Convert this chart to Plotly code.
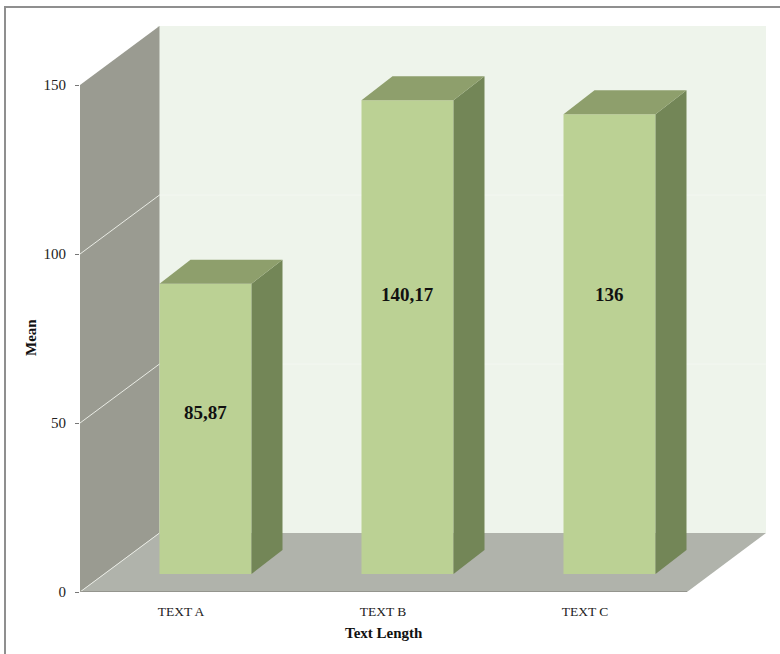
import plotly.graph_objects as go

# Chart values
categories = ["TEXT A", "TEXT B", "TEXT C"]
means = [85.87, 140.17, 136]
value_labels = ["85,87", "140,17", "136"]
y_ticks = [0, 50, 100, 150]

# Pseudo-3D box, expressed in axis units
PX_PER_CAT = 202
PX_PER_UNIT = 3.38
WALL_DX = 79.5 / PX_PER_CAT
WALL_DY = 59 / PX_PER_UNIT
BAR_SHIFT = 24.5 / PX_PER_CAT
BAR_BASE = 18 / PX_PER_UNIT
BAR_WIDTH = 92 / PX_PER_CAT
BAR_DX = 31 / PX_PER_CAT
BAR_DY = 24 / PX_PER_UNIT
X_MIN = -0.5
X_FRONT = X_MIN + 607 / PX_PER_CAT
X_MAX = X_MIN + 686 / PX_PER_CAT
Y_TOP = 150

SERIF = "Liberation Serif"
WALL_LEFT = "#9a9b91"
WALL_BACK = "#eef4eb"
FLOOR = "#b0b3ab"
BAR_FRONT = "#bbd194"
BAR_SIDE = "#738657"
BAR_TOP = "#8e9f6c"
INK = "#111111"


def poly(points, fill):
    path = "M " + " L ".join(f"{x},{y}" for x, y in points) + " Z"
    return dict(type="path", path=path, fillcolor=fill, line=dict(width=0),
                xref="x", yref="y", layer="below")


def seg(x0, y0, x1, y1, color, width=1):
    return dict(type="line", x0=x0, y0=y0, x1=x1, y1=y1, xref="x", yref="y",
                line=dict(color=color, width=width), layer="below")


# The back wall reaches slightly behind the side wall so no seam shows
shapes = [
    poly([(X_MIN + WALL_DX - 0.01, WALL_DY), (X_MAX, WALL_DY),
          (X_MAX, Y_TOP + WALL_DY), (X_MIN + WALL_DX - 0.01, Y_TOP + WALL_DY)], WALL_BACK),
    poly([(X_MIN, 0), (X_MIN + WALL_DX, WALL_DY),
          (X_MIN + WALL_DX, Y_TOP + WALL_DY), (X_MIN, Y_TOP)], WALL_LEFT),
    poly([(X_MIN, 0), (X_FRONT, 0), (X_MAX, WALL_DY), (X_MIN + WALL_DX, WALL_DY)], FLOOR),
]
# Gridlines run across the side wall, then faintly along the back wall
for t in y_ticks[:-1]:
    shapes.append(seg(X_MIN, t, X_MIN + WALL_DX, t + WALL_DY, "#e9ebe4"))
    if t > 0:
        shapes.append(seg(X_MIN + WALL_DX, t + WALL_DY, X_MAX, t + WALL_DY, "#f3f7f1"))
shapes.append(seg(X_MIN, 0, X_FRONT, 0, "#8b8b85", 1.5))


# Paper fractions for items placed relative to the whole page
def page_x(px):
    return (px - 80) / 686


def page_y(py):
    return (592 - py) / 567


# Frame around the chart, running off the right and bottom edges
shapes.append(dict(type="rect", xref="paper", yref="paper", x0=page_x(5), x1=page_x(800),
                   y0=page_y(680), y1=page_y(7), line=dict(color="#8f8f8f", width=2),
                   fillcolor="rgba(0,0,0,0)", layer="below"))

fig = go.Figure()
fig.add_trace(go.Bar(
    x=list(range(len(categories))), y=means, base=BAR_BASE,
    width=BAR_WIDTH, offset=BAR_SHIFT - BAR_WIDTH / 2,
    marker=dict(color=BAR_FRONT, line=dict(width=0)), hoverinfo="skip", showlegend=False,
))

# Side and top faces derive from each bar's value
for i, value in enumerate(means):
    left = i + BAR_SHIFT - BAR_WIDTH / 2
    right = left + BAR_WIDTH
    top = BAR_BASE + value
    fig.add_trace(go.Scatter(
        x=[right, right + BAR_DX, right + BAR_DX, right, right],
        y=[BAR_BASE, BAR_BASE + BAR_DY, top + BAR_DY, top, BAR_BASE],
        mode="lines", fill="toself", fillcolor=BAR_SIDE, line=dict(width=0),
        hoverinfo="skip", showlegend=False,
    ))
    fig.add_trace(go.Scatter(
        x=[left, right, right + BAR_DX, left + BAR_DX, left],
        y=[top, top, top + BAR_DY, top + BAR_DY, top],
        mode="lines", fill="toself", fillcolor=BAR_TOP, line=dict(width=0),
        hoverinfo="skip", showlegend=False,
    ))

# Value labels sit inside the front faces
label_y = [53, 88, 88]
for i, (y, text) in enumerate(zip(label_y, value_labels)):
    fig.add_annotation(x=i + BAR_SHIFT, y=y, text=f"<b>{text}</b>", showarrow=False,
                       font=dict(family=SERIF, size=19, color=INK))

# Axis titles are centred on the front plane, not on the whole plot area
fig.add_annotation(xref="paper", yref="paper", x=page_x(384), y=page_y(633),
                   xanchor="center", yanchor="middle",
                   text="<b>Text Length</b>", showarrow=False,
                   font=dict(family=SERIF, size=15, color=INK))
fig.add_annotation(xref="paper", yref="paper", x=page_x(31), y=page_y(338),
                   xanchor="center", yanchor="middle",
                   text="<b>Mean</b>", textangle=-90, showarrow=False,
                   font=dict(family=SERIF, size=15, color=INK))

fig.update_layout(
    width=780, height=654, autosize=False,
    margin=dict(l=80, r=14, t=25, b=62),
    paper_bgcolor="white", plot_bgcolor="rgba(0,0,0,0)",
    shapes=shapes, showlegend=False,
    xaxis=dict(
        range=[X_MIN, X_MAX], tickmode="array",
        tickvals=list(range(len(categories))), ticktext=categories,
        showgrid=False, zeroline=False, showline=False, ticks="",
        ticklabelstandoff=9,
        tickfont=dict(family=SERIF, size=13.5, color="#222222"),
    ),
    yaxis=dict(
        range=[0, 567 / PX_PER_UNIT], tickmode="array", tickvals=y_ticks,
        showgrid=False, zeroline=False, showline=False,
        ticks="outside", ticklen=4, tickcolor="#777777", tickwidth=1,
        ticklabelstandoff=6,
        tickfont=dict(family=SERIF, size=15, color="#222222"),
    ),
)

fig.write_html("out.html")
